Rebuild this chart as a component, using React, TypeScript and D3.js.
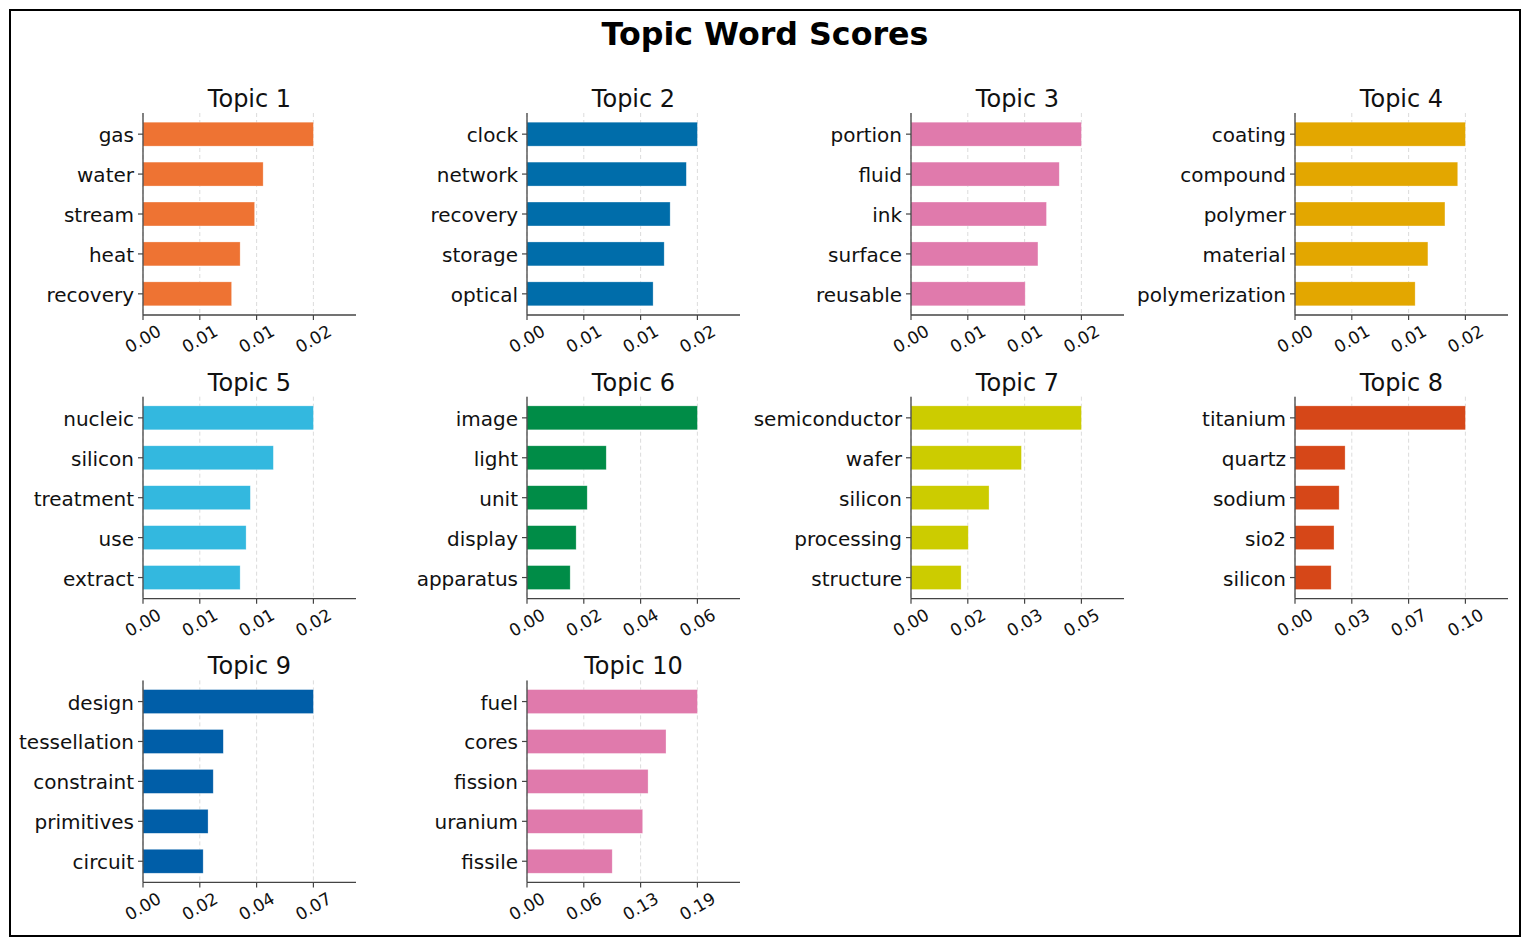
import React from "react";
import * as d3 from "d3";

const topicTitles = ["Topic 1", "Topic 2", "Topic 3", "Topic 4", "Topic 5", "Topic 6", "Topic 7", "Topic 8", "Topic 9", "Topic 10"];

const topicWords: string[][] = [
  ["gas", "water", "stream", "heat", "recovery"],
  ["clock", "network", "recovery", "storage", "optical"],
  ["portion", "fluid", "ink", "surface", "reusable"],
  ["coating", "compound", "polymer", "material", "polymerization"],
  ["nucleic", "silicon", "treatment", "use", "extract"],
  ["image", "light", "unit", "display", "apparatus"],
  ["semiconductor", "wafer", "silicon", "processing", "structure"],
  ["titanium", "quartz", "sodium", "sio2", "silicon"],
  ["design", "tessellation", "constraint", "primitives", "circuit"],
  ["fuel", "cores", "fission", "uranium", "fissile"],
];

const topicScores: number[][] = [
  [0.02, 0.0141, 0.0131, 0.0114, 0.0104],
  [0.02, 0.0187, 0.0168, 0.0161, 0.0148],
  [0.02, 0.0174, 0.0159, 0.0149, 0.0134],
  [0.02, 0.0191, 0.0176, 0.0156, 0.0141],
  [0.02, 0.0153, 0.0126, 0.0121, 0.0114],
  [0.06, 0.0279, 0.0212, 0.0173, 0.0152],
  [0.05, 0.0324, 0.0229, 0.0168, 0.0147],
  [0.10, 0.0294, 0.0259, 0.0229, 0.0212],
  [0.066, 0.0311, 0.0272, 0.0252, 0.0233],
  [0.19, 0.155, 0.135, 0.129, 0.095],
];

const tickLabels: string[][] = [
  ["0.00", "0.01", "0.01", "0.02"],
  ["0.00", "0.01", "0.01", "0.02"],
  ["0.00", "0.01", "0.01", "0.02"],
  ["0.00", "0.01", "0.01", "0.02"],
  ["0.00", "0.01", "0.01", "0.02"],
  ["0.00", "0.02", "0.04", "0.06"],
  ["0.00", "0.02", "0.03", "0.05"],
  ["0.00", "0.03", "0.07", "0.10"],
  ["0.00", "0.02", "0.04", "0.07"],
  ["0.00", "0.06", "0.13", "0.19"],
];

const topicColors = ["#EE7333", "#006DAA", "#E07AAC", "#E3A700", "#33B8DF", "#008C47", "#CCCC00", "#D64718", "#005EA8", "#E07AAC"];

const W = 1529;
const H = 946;
const FONT = "DejaVu Sans, sans-serif";

const Panel: React.FC<{ idx: number }> = ({ idx }) => {
  const col = idx % 4;
  const row = Math.floor(idx / 4);
  const x0 = 143 + 384 * col;
  const top = 113 + 283.7 * row;
  const pw = 213;
  const ph = 202;
  const scores = topicScores[idx];
  const words = topicWords[idx];
  const maxV = d3.max(scores) as number;
  const x = d3.scaleLinear().domain([0, maxV * 1.25]).range([x0, x0 + pw]);
  const y = d3.scaleLinear().domain([-0.53, 4.53]).range([top, top + ph]);
  const ticks = d3.range(4).map((i) => (maxV * i) / 3);
  const barH = y(0.3) - y(-0.3);
  const bottom = top + ph;
  return (
    <g>
      <text x={x0 + pw / 2} y={top - 6} textAnchor="middle" fontSize={24} fontFamily={FONT} fill="#111">
        {topicTitles[idx]}
      </text>
      {ticks.map((t, i) => (
        <line key={"g" + i} x1={x(t)} x2={x(t)} y1={top} y2={bottom} stroke="#d8d8d8" strokeWidth={0.9} strokeDasharray="4,3" />
      ))}
      {scores.map((v, i) => (
        <rect key={"b" + i} x={x(0)} y={y(i) - barH / 2} width={x(v) - x(0)} height={barH} fill={topicColors[idx]} stroke="#ffffff" strokeOpacity={0.5} strokeWidth={0.6} />
      ))}
      <line x1={x0} x2={x0} y1={top} y2={bottom} stroke="#444" strokeWidth={1.3} />
      <line x1={x0} x2={x0 + pw} y1={bottom} y2={bottom} stroke="#444" strokeWidth={1.3} />
      {words.map((w, i) => (
        <g key={"y" + i}>
          <line x1={x0 - 5} x2={x0} y1={y(i)} y2={y(i)} stroke="#444" strokeWidth={1.2} />
          <text x={x0 - 9} y={y(i)} dy="0.4em" textAnchor="end" fontSize={20} fontFamily={FONT} fill="#111">
            {w}
          </text>
        </g>
      ))}
      {ticks.map((t, i) => (
        <g key={"x" + i}>
          <line x1={x(t)} x2={x(t)} y1={bottom} y2={bottom + 5} stroke="#444" strokeWidth={1.2} />
          <text
            transform={`translate(${x(t)},${bottom + 24}) rotate(-30)`}
            textAnchor="middle"
            dy="0.35em"
            fontSize={17}
            fontFamily={FONT}
            fill="#111"
          >
            {tickLabels[idx][i]}
          </text>
        </g>
      ))}
    </g>
  );
};

export default function App() {
  return (
    <svg width={W} height={H} style={{ position: "absolute", left: 0, top: 0, display: "block", background: "#fff" }}>
      <rect x={0} y={0} width={W} height={H} fill="#fff" />
      <rect x={10} y={10} width={1510} height={926} fill="none" stroke="#000" strokeWidth={2} />
      <text x={765} y={45} textAnchor="middle" fontSize={31.7} fontWeight="bold" fontFamily={FONT} fill="#000">
        Topic Word Scores
      </text>
      {topicTitles.map((_, i) => (
        <Panel key={i} idx={i} />
      ))}
    </svg>
  );
}
